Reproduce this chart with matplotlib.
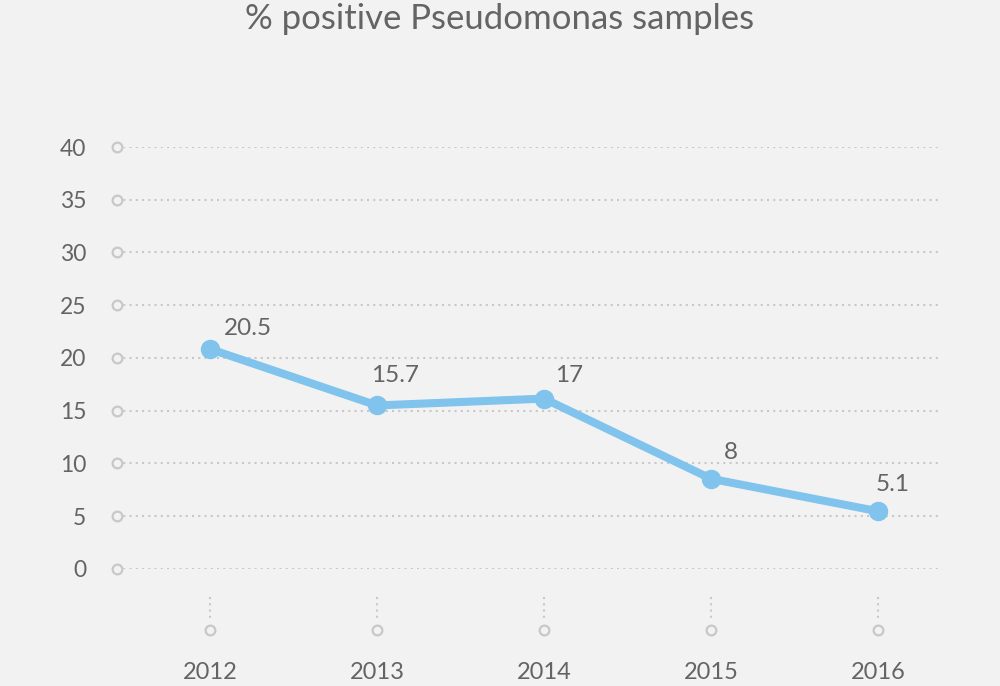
import matplotlib.pyplot as plt
import numpy as np

years = ['2012', '2013', '2014', '2015', '2016']
# plotted positions as drawn in the chart, and the printed value labels
positions = [20.85, 15.5, 16.15, 8.55, 5.47]
value_labels = ['20.5', '15.7', '17', '8', '5.1']
yticks = [0, 5, 10, 15, 20, 25, 30, 35, 40]

bg = '#f2f2f2'
txt = '#646464'
line_col = '#80c3ec'
grid_col = '#c8c8c8'

plt.rcParams['font.family'] = ['Lato', 'DejaVu Sans']

fig = plt.figure(figsize=(10, 6.86), dpi=100, facecolor=bg)
ax = fig.add_axes([0.117, 0.1706, 0.823, 0.6151], facecolor=bg)

x = np.arange(len(years))
ax.plot(x, positions, color=line_col, lw=5.8, marker='o', ms=13,
        solid_capstyle='round', zorder=3, clip_on=False)

# label offsets in points (dx, dy) relative to each point
offs = [(10, 7), (-4, 14), (8, 9), (9, 11), (-2, 12)]
for xi, yi, lab, (dx, dy) in zip(x, positions, value_labels, offs):
    ax.annotate(lab, (xi, yi), xytext=(dx, dy), textcoords='offset points',
                fontsize=17.5, color=txt, ha='left', va='bottom')

ax.set_xlim(-0.557, 4.371)
ax.set_ylim(0, 40)
ax.set_yticks(yticks)
ax.set_xticks(x)
ax.set_xticklabels(years)
ax.tick_params(axis='y', length=0, pad=22, labelsize=16.5, labelcolor=txt)
ax.tick_params(axis='x', length=0, pad=67, labelsize=17, labelcolor=txt)
for s in ax.spines.values():
    s.set_visible(False)

# dotted horizontal grid lines with a small hollow circle at the left end
ax.yaxis.grid(True, linestyle=(0, (1, 2)), color=grid_col, lw=1.5)
ax.set_axisbelow(True)
ax.plot(np.zeros(len(yticks)), yticks, 'o', ms=7, mfc=bg, mec=grid_col, mew=1.6,
        transform=ax.get_yaxis_transform(), clip_on=False)

# x ticks: short dotted stem + hollow circle below the plot
xt = ax.get_xaxis_transform()
for xi in x:
    ax.plot([xi, xi], [-0.066, -0.121], color=grid_col, lw=1.5,
            linestyle=(0, (1, 2)), transform=xt, clip_on=False)
ax.plot(x, np.full(len(x), -0.1445), 'o', ms=7, mfc=bg, mec=grid_col, mew=1.6,
        transform=xt, clip_on=False)

fig.text(0.5, 0.972, '% positive Pseudomonas samples', ha='center', va='center',
         fontsize=25, color=txt)

fig.savefig('out.png', dpi=100, facecolor=bg)
